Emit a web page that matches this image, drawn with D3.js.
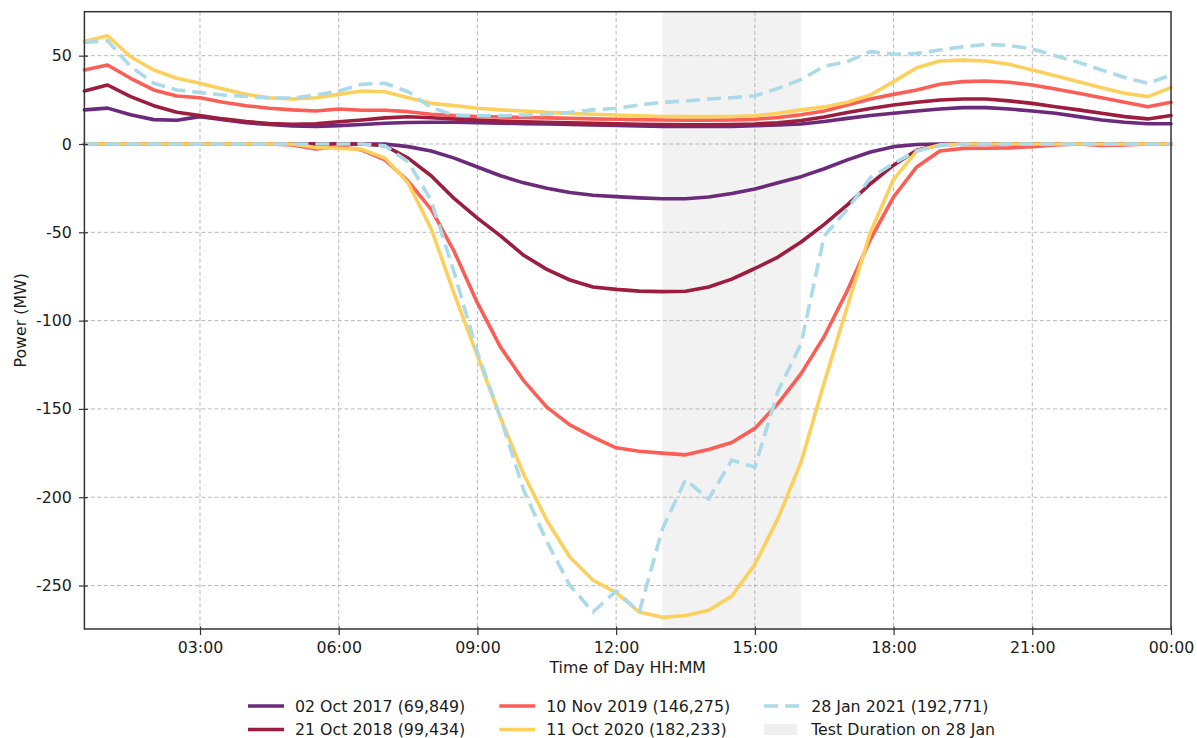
<!DOCTYPE html>
<html>
<head>
<meta charset="utf-8">
<script src="https://cdn.jsdelivr.net/npm/d3@7"></script>
<style>
  body { margin: 0; background: #ffffff; }
  svg { display: block; font-family: "DejaVu Sans", sans-serif; }
</style>
</head>
<body>
<svg id="chart" width="1197" height="738"></svg>
<script>
// Half-hourly settlement periods, expressed in hours (00:30 .. 24:00)
const hours = [0.5, 1, 1.5, 2, 2.5, 3, 3.5, 4, 4.5, 5, 5.5, 6, 6.5, 7, 7.5, 8, 8.5, 9, 9.5, 10,
  10.5, 11, 11.5, 12, 12.5, 13, 13.5, 14, 14.5, 15, 15.5, 16, 16.5, 17, 17.5, 18, 18.5, 19, 19.5, 20,
  20.5, 21, 21.5, 22, 22.5, 23, 23.5, 24];

// Import (positive) and export (negative) power per day, MW
const import2017 = [19.3, 20.3, 16.6, 13.8, 13.4, 15.5, 13.8, 12, 11, 10.2, 10, 10.4, 11, 11.7, 12.2, 12.3,
  12.3, 12, 11.8, 11.5, 11.3, 11, 10.8, 10.5, 10.2, 10, 9.9, 9.9, 10, 10.3, 10.8, 11.3, 12.7, 14.5, 16.1,
  17.4, 18.7, 19.8, 20.6, 20.6, 19.8, 18.7, 17.4, 15.5, 13.6, 12.3, 11.5, 11.5];
const export2017 = [0, 0, 0, 0, 0, 0, 0, 0, 0, 0, 0, 0, 0, 0, -1.5, -4, -8, -13, -18, -22, -25, -27.5,
  -29, -29.8, -30.5, -31, -31, -30, -28, -25.5, -22, -18.5, -14, -9, -4.5, -1.5, -0.3, 0, 0, 0, 0, 0, 0,
  0, 0, 0, 0, 0];

const import2018 = [30, 33.4, 26.8, 21.7, 18, 16.1, 14.2, 12.7, 11.6, 11.2, 11.5, 12.6, 13.6, 14.8, 15.4,
  14.9, 14.2, 13.5, 13, 12.6, 12.3, 12, 11.7, 11.5, 11.2, 11, 10.9, 10.9, 11, 11.3, 12, 13.3, 15.3, 17.8,
  20.1, 22.1, 23.6, 24.9, 25.5, 25.5, 24.4, 23, 21.1, 19.3, 17.4, 15.5, 14.2, 16.1];
const export2018 = [0, 0, 0, 0, 0, 0, 0, 0, 0, 0, 0, 0, 0, -1, -8, -18, -31, -42, -52, -63, -71, -77,
  -81, -82.3, -83.3, -83.6, -83.4, -81, -76.5, -70.5, -64, -55.5, -45.5, -34.5, -22.5, -12, -3.5, -0.5,
  0, 0, 0, 0, 0, 0, 0, 0, 0, 0];

const import2019 = [41.9, 44.7, 37.2, 30.6, 27.2, 26.2, 23.6, 21.7, 20.2, 19.3, 18.7, 19.8, 19.1, 19.1,
  18.3, 16.8, 16.1, 15.6, 15.3, 15, 14.8, 14.5, 14.2, 14, 13.8, 13.6, 13.4, 13.4, 13.6, 14, 15, 16.6,
  18.7, 22.1, 25.5, 28.1, 30.6, 33.8, 35.3, 35.7, 35, 33.4, 31.1, 28.7, 26.2, 23.6, 21.1, 23.6];
const export2019 = [0, 0, 0, 0, 0, 0, 0, 0, 0, -0.5, -2.8, -1.5, -3.4, -9, -21, -37, -61, -90, -115,
  -134, -149, -159, -166, -172, -174, -175, -176, -173, -169, -161, -147, -130, -109, -83, -54, -30, -13,
  -4, -2.5, -2.4, -2.2, -1.5, -0.5, 0, -0.8, -0.5, 0, 0];

const import2020 = [58, 61.3, 49.4, 41.9, 37.2, 34.4, 31.1, 28.1, 26.2, 25.5, 26.2, 28.1, 30, 29.6, 26.2,
  23, 21.7, 20.2, 19.3, 18.7, 17.9, 17.4, 16.8, 16.4, 16, 15.6, 15.5, 15.5, 15.6, 16, 17.4, 19.3, 21,
  23.6, 27.7, 35.3, 43.2, 47, 47.5, 47, 45.1, 41.9, 38.7, 35.3, 31.9, 28.7, 26.8, 31.9];
const export2020 = [0, 0, 0, 0, 0, 0, 0, 0, 0, 0, -2, -2.5, -3, -8, -22, -48, -85, -120, -155, -187,
  -213, -234, -247, -254, -265, -268, -267, -264, -256, -238, -212, -180, -135, -92, -50, -20, -4, -0.5,
  0, 0, 0, 0, 0, 0, 0, 0, 0, 0];

const import2021 = [57.5, 58.5, 43.8, 34.4, 30.6, 29.1, 27.7, 26.9, 26, 26, 27.7, 30, 33.8, 34.4, 29.6,
  20.6, 16.4, 16, 16, 16.4, 16.8, 17.9, 19.3, 20.2, 22.1, 23.6, 24.3, 25.5, 26.2, 27.3, 31.5, 36.5, 44,
  46.6, 52.3, 50.8, 51.3, 53.2, 55.1, 56.4, 55.8, 53.8, 50, 46.2, 41.9, 37.6, 34.4, 39];
const export2021 = [0, 0, 0, 0, 0, 0, 0, 0, 0, 0, 0, 0, 0, -1, -10, -32, -73, -118, -155, -196, -225,
  -250, -265, -253, -265, -218, -190, -201, -179, -183, -140, -113, -52, -37, -19, -11, -4, -1, 0, 0, 0,
  0, 0, 0, 0, 0, 0, 0];

const seriesLabels = ["02 Oct 2017 (69,849)", "21 Oct 2018 (99,434)", "10 Nov 2019 (146,275)",
  "11 Oct 2020 (182,233)", "28 Jan 2021 (192,771)"];
const testWindow = [13, 16];
const testLabel = "Test Duration on 28 Jan";
const xTickHours = [3, 6, 9, 12, 15, 18, 21, 24];
const yTickValues = [50, 0, -50, -100, -150, -200, -250];
const xTitle = "Time of Day HH:MM";
const yTitle = "Power (MW)";

const series = [
  { label: seriesLabels[0], pos: import2017, neg: export2017, color: "#6c2a7b", dash: null },
  { label: seriesLabels[1], pos: import2018, neg: export2018, color: "#9c1d3e", dash: null },
  { label: seriesLabels[2], pos: import2019, neg: export2019, color: "#fb5e56", dash: null },
  { label: seriesLabels[3], pos: import2020, neg: export2020, color: "#fcd05c", dash: null },
  { label: seriesLabels[4], pos: import2021, neg: export2021, color: "#abdae8", dash: "14,7" }
];

const svg = d3.select("#chart");
const plot = { left: 84.4, right: 1171, top: 11.7, bottom: 629 };

const x = d3.scaleLinear().domain([0.5, 24]).range([plot.left, plot.right]);
const y = d3.scaleLinear().domain([-274.6, 74.9]).range([plot.bottom, plot.top]);

const textColor = "#1c1c1c";
const fontSize = "15.8px";

// Shaded test window
svg.append("rect")
  .attr("x", x(testWindow[0]))
  .attr("y", plot.top)
  .attr("width", x(testWindow[1]) - x(testWindow[0]))
  .attr("height", plot.bottom - plot.top)
  .attr("fill", "#f2f2f2");

// Grid
const grid = svg.append("g").attr("stroke", "#b8b8b8").attr("stroke-width", 1)
  .attr("stroke-dasharray", "4,2.5");
grid.selectAll(".gx").data(xTickHours.filter(h => h < 24)).join("line")
  .attr("x1", d => x(d)).attr("x2", d => x(d))
  .attr("y1", plot.top).attr("y2", plot.bottom);
grid.selectAll(".gy").data(yTickValues).join("line")
  .attr("x1", plot.left).attr("x2", plot.right)
  .attr("y1", d => y(d)).attr("y2", d => y(d));

// Lines
const line = d3.line().x((d, i) => x(hours[i])).y(d => y(d));
const lines = svg.append("g").attr("fill", "none").attr("stroke-width", 3.6)
  .attr("stroke-linejoin", "round");
series.forEach(s => {
  [s.pos, s.neg].forEach(vals => {
    lines.append("path")
      .datum(vals)
      .attr("d", line)
      .attr("stroke", s.color)
      .attr("stroke-dasharray", s.dash)
      .attr("stroke-linecap", s.dash ? "butt" : "round");
  });
});

// Spines
svg.append("rect")
  .attr("x", plot.left).attr("y", plot.top)
  .attr("width", plot.right - plot.left).attr("height", plot.bottom - plot.top)
  .attr("fill", "none").attr("stroke", "#333333").attr("stroke-width", 1.5);

// Axes
const fmtHour = h => String(h % 24).padStart(2, "0") + ":00";
const xAxis = svg.append("g")
  .attr("transform", `translate(0,${plot.bottom})`)
  .call(d3.axisBottom(x).tickValues(xTickHours).tickFormat(fmtHour).tickSize(6).tickPadding(7));
xAxis.select(".domain").remove();
xAxis.selectAll(".tick line").attr("y1", -2.5).attr("stroke", "#333").attr("stroke-width", 1.2);
xAxis.selectAll("text").attr("fill", textColor).style("font-size", fontSize)
  .style("font-family", "DejaVu Sans, sans-serif");

const yAxis = svg.append("g")
  .attr("transform", `translate(${plot.left},0)`)
  .call(d3.axisLeft(y).tickValues(yTickValues).tickFormat(d => String(d)).tickSize(5.5).tickPadding(7));
yAxis.select(".domain").remove();
yAxis.selectAll(".tick line").attr("x1", 3.5).attr("stroke", "#333").attr("stroke-width", 1.2);
yAxis.selectAll("text").attr("fill", textColor).style("font-size", fontSize)
  .style("font-family", "DejaVu Sans, sans-serif");

// Axis titles
svg.append("text")
  .attr("x", (plot.left + plot.right) / 2).attr("y", 673)
  .attr("text-anchor", "middle").attr("fill", textColor).style("font-size", fontSize)
  .text(xTitle);
svg.append("text")
  .attr("transform", `translate(26,${(plot.top + plot.bottom) / 2}) rotate(-90)`)
  .attr("text-anchor", "middle").attr("fill", textColor).style("font-size", fontSize)
  .text(yTitle);

// Legend: three columns, two rows
const legendItems = series.map(s => ({ label: s.label, color: s.color, dash: s.dash, type: "line" }))
  .concat([{ label: testLabel, color: "#efefef", type: "patch" }]);
const rowsY = [706, 729.5];
const legend = svg.append("g");
let colX = 248;
for (let c = 0; c < 3; c++) {
  let colWidth = 0;
  for (let r = 0; r < 2; r++) {
    const item = legendItems[c * 2 + r];
    const yy = rowsY[r];
    if (item.type === "line") {
      legend.append("line")
        .attr("x1", colX).attr("x2", colX + 36)
        .attr("y1", yy).attr("y2", yy)
        .attr("stroke", item.color).attr("stroke-width", 3.6)
        .attr("stroke-dasharray", item.dash ? "14,7" : null);
    } else {
      legend.append("rect")
        .attr("x", colX).attr("y", yy - 5.5)
        .attr("width", 33).attr("height", 11)
        .attr("fill", item.color);
    }
    const t = legend.append("text")
      .attr("x", colX + 47).attr("y", yy)
      .attr("dy", "0.36em")
      .attr("fill", textColor).style("font-size", fontSize)
      .text(item.label);
    colWidth = Math.max(colWidth, 47 + t.node().getComputedTextLength());
  }
  colX += colWidth + 34;
}
</script>
</body>
</html>
